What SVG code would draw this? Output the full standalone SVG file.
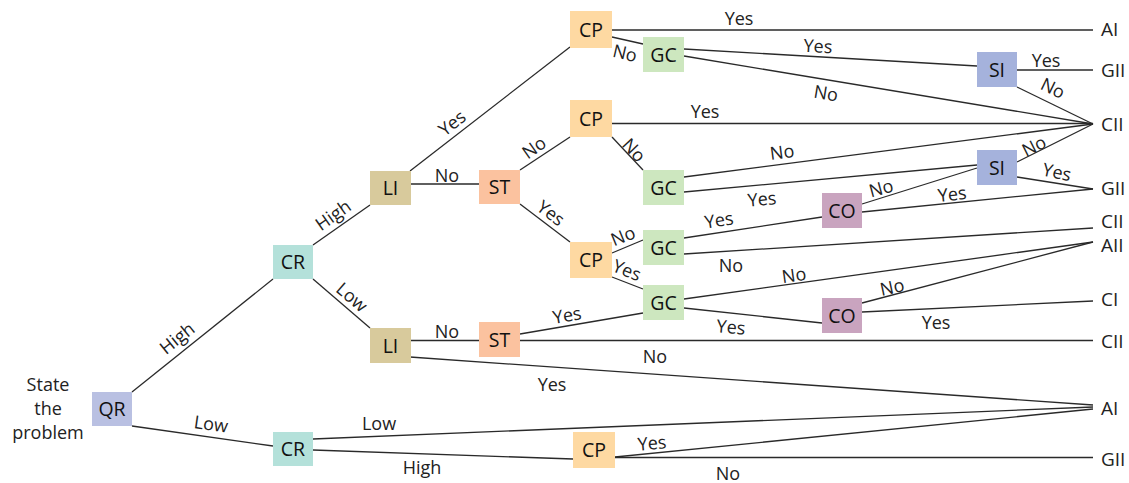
<svg xmlns="http://www.w3.org/2000/svg" width="1129" height="483" viewBox="0 0 1129 483">
<style>
.c line{stroke:#2a2a2a;stroke-width:1.3;fill:none}
.n text{font-family:"Open Sans","Noto Sans",sans-serif;font-size:19.5px;font-weight:500;fill:#111;text-anchor:middle}
.l text{font-family:"Open Sans","Noto Sans",sans-serif;font-size:18px;fill:#222;text-anchor:middle}
.t text{font-family:"Open Sans","Noto Sans",sans-serif;font-size:19px;fill:#222}
.qr{fill:#b9c0e2}.cr{fill:#b4e1da}.li{fill:#d8ca9c}.st{fill:#fbc29f}.cp{fill:#fed9a2}.gc{fill:#cde7bf}.co{fill:#c9a4bf}.si{fill:#a5b2dc}
</style>
<rect width="1129" height="483" fill="#fff"/>
<g id="connectors" class="c">
<line x1="132" y1="392" x2="273" y2="279"/>
<line x1="132" y1="426" x2="273" y2="446"/>
<line x1="313" y1="245" x2="370" y2="205"/>
<line x1="313" y1="279" x2="370" y2="328"/>
<line x1="410" y1="171" x2="570" y2="47"/>
<line x1="410" y1="184" x2="479" y2="184"/>
<line x1="520" y1="170" x2="570" y2="137"/>
<line x1="520" y1="204" x2="570" y2="242"/>
<line x1="612" y1="30" x2="1093" y2="30"/>
<line x1="612" y1="37" x2="643" y2="44"/>
<line x1="684" y1="49" x2="977" y2="66"/>
<line x1="684" y1="56" x2="1093" y2="124"/>
<line x1="1017" y1="70" x2="1093" y2="70"/>
<line x1="1017" y1="87" x2="1093" y2="124"/>
<line x1="612" y1="123.5" x2="1093" y2="123.5"/>
<line x1="612" y1="137" x2="643" y2="170"/>
<line x1="684" y1="177" x2="1093" y2="124"/>
<line x1="684" y1="192" x2="977" y2="165"/>
<line x1="1017" y1="162" x2="1093" y2="124"/>
<line x1="1017" y1="177" x2="1093" y2="189"/>
<line x1="862" y1="204" x2="977" y2="168"/>
<line x1="862" y1="212" x2="1093" y2="189"/>
<line x1="684" y1="238" x2="822" y2="217"/>
<line x1="684" y1="254" x2="1093" y2="228"/>
<line x1="612" y1="253" x2="643" y2="240"/>
<line x1="612" y1="277" x2="643" y2="289"/>
<line x1="684" y1="299" x2="1093" y2="242"/>
<line x1="684" y1="308" x2="822" y2="323"/>
<line x1="862" y1="303" x2="1093" y2="242"/>
<line x1="862" y1="312" x2="1093" y2="301"/>
<line x1="520" y1="334" x2="643" y2="313"/>
<line x1="520" y1="340.5" x2="1093" y2="340.5"/>
<line x1="410" y1="340.5" x2="479" y2="340.5"/>
<line x1="410" y1="357" x2="1093" y2="405"/>
<line x1="313" y1="439" x2="1093" y2="407"/>
<line x1="313" y1="450" x2="573" y2="459"/>
<line x1="615" y1="457" x2="1093" y2="409"/>
<line x1="615" y1="457.5" x2="1093" y2="457.5"/>
</g>
<g id="edge-labels" class="l">
<text x="177" y="344.5" transform="rotate(-38.7 177 338)">High</text>
<text x="211" y="430.5" transform="rotate(8 211 424)">Low</text>
<text x="333" y="221.5" transform="rotate(-35 333 215)">High</text>
<text x="352" y="303.5" transform="rotate(40.7 352 297)">Low</text>
<text x="447" y="181.5">No</text>
<text x="452" y="129.5" transform="rotate(-37.8 452 123)">Yes</text>
<text x="534" y="154" transform="rotate(-35 534 147.5)">No</text>
<text x="551" y="219.5" transform="rotate(37 551 213)">Yes</text>
<text x="739" y="25">Yes</text>
<text x="625" y="59.5" transform="rotate(13 625 53)">No</text>
<text x="818" y="52.5" transform="rotate(3.3 818 46)">Yes</text>
<text x="826" y="99.5" transform="rotate(9.4 826 93)">No</text>
<text x="1046" y="66.5">Yes</text>
<text x="1053" y="94.5" transform="rotate(26 1053 88)">No</text>
<text x="705" y="117.5">Yes</text>
<text x="634" y="156.5" transform="rotate(47 634 150)">No</text>
<text x="782" y="158.5" transform="rotate(-7.4 782 152)">No</text>
<text x="762" y="205.5" transform="rotate(-5.3 762 199)">Yes</text>
<text x="1034" y="152.5" transform="rotate(-26.6 1034 146)">No</text>
<text x="1057" y="178.5" transform="rotate(12 1057 172)">Yes</text>
<text x="881" y="194.5" transform="rotate(-15 881 188)">No</text>
<text x="952" y="200.5" transform="rotate(-6 952 194)">Yes</text>
<text x="719" y="226.5" transform="rotate(-9 719 220)">Yes</text>
<text x="731" y="271.5">No</text>
<text x="623" y="242.5" transform="rotate(-22 623 236)">No</text>
<text x="627" y="276.5" transform="rotate(22 627 270)">Yes</text>
<text x="794" y="281.5" transform="rotate(-8 794 275)">No</text>
<text x="731" y="333.5" transform="rotate(5 731 327)">Yes</text>
<text x="892" y="293.5" transform="rotate(-12 892 287)">No</text>
<text x="936" y="328.5">Yes</text>
<text x="567" y="321.5" transform="rotate(-10 567 315)">Yes</text>
<text x="447" y="338">No</text>
<text x="655" y="363">No</text>
<text x="552" y="391">Yes</text>
<text x="379" y="430">Low</text>
<text x="422" y="474">High</text>
<text x="652" y="449.5" transform="rotate(-5 652 443)">Yes</text>
<text x="728" y="479.5">No</text>
</g>
<g id="start" class="l">
<text x="48" y="391">State</text>
<text x="48" y="415">the</text>
<text x="48" y="439">problem</text>
</g>
<g id="node-QR" class="n"><rect class="qr" x="92" y="392" width="40" height="34"/><text x="112" y="416">QR</text></g>
<g id="node-CR1" class="n"><rect class="cr" x="273" y="245" width="40" height="34"/><text x="293" y="269">CR</text></g>
<g id="node-CR2" class="n"><rect class="cr" x="273" y="432" width="40" height="34"/><text x="293" y="456">CR</text></g>
<g id="node-LI1" class="n"><rect class="li" x="370" y="171" width="41" height="34"/><text x="390.5" y="195">LI</text></g>
<g id="node-LI2" class="n"><rect class="li" x="370" y="328" width="41" height="35"/><text x="390.5" y="352.5">LI</text></g>
<g id="node-ST1" class="n"><rect class="st" x="479" y="170" width="41" height="34"/><text x="499.5" y="194">ST</text></g>
<g id="node-ST2" class="n"><rect class="st" x="479" y="322" width="41" height="35"/><text x="499.5" y="346.5">ST</text></g>
<g id="node-CP1" class="n"><rect class="cp" x="570" y="11" width="42" height="37"/><text x="591" y="36.5">CP</text></g>
<g id="node-CP2" class="n"><rect class="cp" x="570" y="100" width="42" height="37"/><text x="591" y="125.5">CP</text></g>
<g id="node-CP3" class="n"><rect class="cp" x="570" y="242" width="42" height="36"/><text x="591" y="267">CP</text></g>
<g id="node-CP4" class="n"><rect class="cp" x="573" y="432" width="42" height="36"/><text x="594" y="457">CP</text></g>
<g id="node-GC1" class="n"><rect class="gc" x="643" y="37" width="41" height="35"/><text x="663.5" y="61.5">GC</text></g>
<g id="node-GC2" class="n"><rect class="gc" x="643" y="170" width="41" height="35"/><text x="663.5" y="194.5">GC</text></g>
<g id="node-GC3" class="n"><rect class="gc" x="643" y="230" width="41" height="35"/><text x="663.5" y="254.5">GC</text></g>
<g id="node-GC4" class="n"><rect class="gc" x="643" y="285" width="41" height="35"/><text x="663.5" y="309.5">GC</text></g>
<g id="node-CO1" class="n"><rect class="co" x="822" y="193" width="40" height="35"/><text x="842" y="217.5">CO</text></g>
<g id="node-CO2" class="n"><rect class="co" x="822" y="298" width="40" height="35"/><text x="842" y="322.5">CO</text></g>
<g id="node-SI1" class="n"><rect class="si" x="977" y="52" width="40" height="35"/><text x="997" y="76.5">SI</text></g>
<g id="node-SI2" class="n"><rect class="si" x="977" y="150" width="40" height="35"/><text x="997" y="174.5">SI</text></g>
<g id="terminals" class="t">
<text x="1101" y="36">AI</text>
<text x="1101" y="77">GII</text>
<text x="1101" y="131">CII</text>
<text x="1101" y="195">GII</text>
<text x="1101" y="228">CII</text>
<text x="1101" y="252">AII</text>
<text x="1101" y="306">CI</text>
<text x="1101" y="348">CII</text>
<text x="1101" y="415">AI</text>
<text x="1101" y="466">GII</text>
</g>
</svg>
